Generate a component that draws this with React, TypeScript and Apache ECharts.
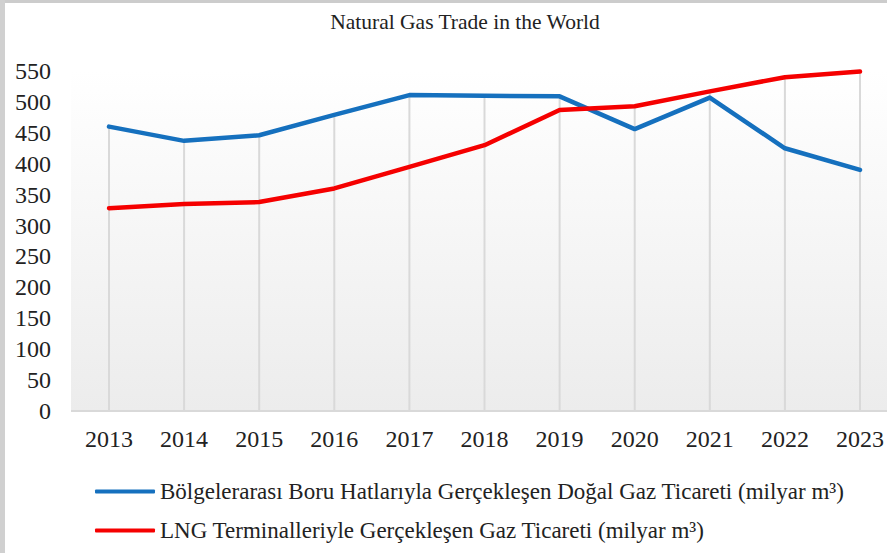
import React, { useEffect, useRef } from "react";
import * as echarts from "echarts";

const years = ["2013", "2014", "2015", "2016", "2017", "2018", "2019", "2020", "2021", "2022", "2023"];
const pipelineTrade = [460, 437, 446, 479, 511, 510, 509, 456, 507, 425, 390];
const lngTrade = [328, 335, 338, 360, 395, 430, 487, 493, 517, 540, 549];
const pipelineName = "Bölgelerarası Boru Hatlarıyla Gerçekleşen Doğal Gaz Ticareti (milyar m³)";
const lngName = "LNG Terminalleriyle Gerçekleşen Gaz Ticareti (milyar m³)";

export default function App() {
  const ref = useRef<HTMLDivElement>(null);
  useEffect(() => {
    document.body.style.margin = "0";
    const chart = echarts.init(ref.current!, null, { renderer: "svg" });
    const dropData = years.map((_, i) => [i, Math.max(pipelineTrade[i], lngTrade[i])]);
    const font = "Liberation Serif";
    chart.setOption({
      animation: false,
      backgroundColor: "#ffffff",
      textStyle: { fontFamily: font },
      title: {
        text: "Natural Gas Trade in the World",
        left: 465,
        textAlign: "center",
        top: 11,
        padding: 0,
        textStyle: { fontFamily: font, fontSize: 21.5, fontWeight: "normal", color: "#222" },
      },
      graphic: [
        {
          type: "rect",
          z: -1,
          silent: true,
          shape: { x: 71, y: 71, width: 816, height: 340 },
          style: {
            fill: new echarts.graphic.LinearGradient(0, 0, 0, 1, [
              { offset: 0, color: "#ffffff" },
              { offset: 1, color: "#ececec" },
            ]),
          },
        },
        {
          type: "line",
          z: 5,
          silent: true,
          shape: { x1: 71, y1: 411, x2: 887, y2: 411 },
          style: { stroke: "#d9d9d9", lineWidth: 2 },
        },
        { type: "rect", shape: { x: 0, y: 0, width: 887, height: 3 }, style: { fill: "#cccccc" }, z: 100 },
        { type: "rect", shape: { x: 0, y: 0, width: 5, height: 553 }, style: { fill: "#d0d0d0" }, z: 100 },
      ],
      legend: {
        orient: "vertical",
        left: 95,
        top: 480,
        padding: 0,
        itemGap: 16,
        itemWidth: 60,
        itemHeight: 4,
        icon: "roundRect",
        textStyle: { fontFamily: font, fontSize: 23, color: "#222" },
        data: [pipelineName, lngName],
      },
      grid: {
        left: 109,
        top: 71,
        width: 754,
        height: 340,
        show: false,
      },
      xAxis: {
        type: "category",
        data: years,
        boundaryGap: false,
        axisLine: { show: false },
        axisTick: { show: false },
        splitLine: { show: false },
        axisLabel: { fontFamily: font, fontSize: 24, color: "#222", margin: 16 },
      },
      yAxis: {
        type: "value",
        min: 0,
        max: 550,
        interval: 50,
        axisLine: { show: false },
        axisTick: { show: false },
        splitLine: { show: false },
        axisLabel: { fontFamily: font, fontSize: 24, color: "#222", margin: 58 },
      },
      series: [
        {
          type: "custom",
          name: "drop",
          silent: true,
          z: 1,
          clip: false,
          data: dropData,
          renderItem: (params: any, api: any) => {
            const top = api.coord([api.value(0), api.value(1)]);
            const bottom = api.coord([api.value(0), 0]);
            return {
              type: "line",
              shape: { x1: top[0], y1: top[1], x2: bottom[0], y2: bottom[1] },
              style: { stroke: "#d9d9d9", lineWidth: 2 },
            };
          },
        },
        {
          name: pipelineName,
          type: "line",
          data: pipelineTrade,
          color: "#1570be",
          symbol: "none",
          z: 3,
          lineStyle: { width: 4.5, color: "#1570be", cap: "round", join: "round" },
        },
        {
          name: lngName,
          type: "line",
          data: lngTrade,
          color: "#f50000",
          symbol: "none",
          z: 4,
          lineStyle: { width: 4.5, color: "#f50000", cap: "round", join: "round" },
        },
      ],
    });
    return () => chart.dispose();
  }, []);
  return <div ref={ref} style={{ width: 887, height: 553 }} />;
}
